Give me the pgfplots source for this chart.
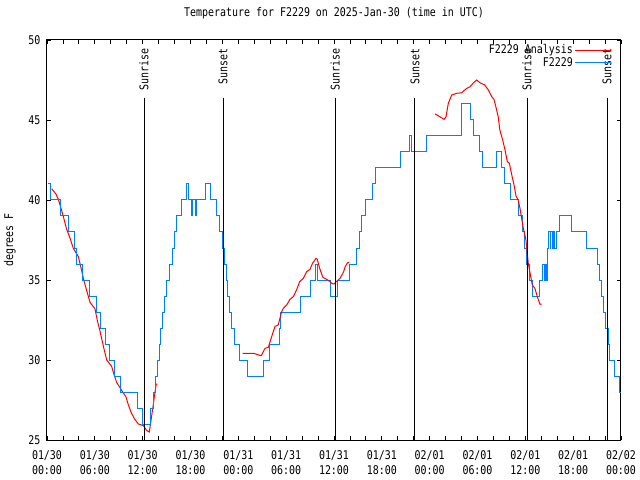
\documentclass[border=0pt]{standalone}
\usepackage{fontspec}
\usepackage{pgfplots}
\pgfplotsset{compat=1.18}
\newfontfamily\gfontfam[FakeStretch=0.83]{DejaVu Sans Mono}
\newcommand{\gfont}{\gfontfam\fontsize{12bp}{15.5bp}\selectfont}
\definecolor{gred}{RGB}{255,0,0}
\definecolor{gblue}{RGB}{0,128,255}
\begin{document}
\begin{tikzpicture}
\useasboundingbox (-47bp,-40bp) rectangle (593bp,440bp);
\begin{axis}[
  at={(0,0)}, anchor=south west,
  scale only axis, width=574bp, height=400bp,
  xmin=0, xmax=72, ymin=25, ymax=50,
  xtick={0,6,...,72}, minor x tick num=2,
  ytick={25,30,...,50},
  xticklabels={{01/30\\00:00},{01/30\\06:00},{01/30\\12:00},{01/30\\18:00},{01/31\\00:00},{01/31\\06:00},{01/31\\12:00},{01/31\\18:00},{02/01\\00:00},{02/01\\06:00},{02/01\\12:00},{02/01\\18:00},{02/02\\00:00}},
  /pgf/number format/assume math mode=true,
  xticklabel style={align=center, font=\gfont, yshift=-7bp},
  yticklabel style={font=\gfont, xshift=-3bp},
  tick align=inside, tick pos=both,
  major tick length=4bp, minor tick length=4bp,
  every tick/.style={black, line width=0.8bp},
  axis line style={line width=1bp},
  title={Temperature for F2229 on 2025-Jan-30 (time in UTC)},
  title style={font=\gfont, at={(axis description cs:0.5,1)}, anchor=center, yshift=21bp},
  ylabel={degrees F},
  ylabel style={font=\gfont, at={(axis description cs:-0.0645,0.5)}, anchor=center},
  legend plot pos=right, legend cell align=right,
  legend style={draw=none, fill=none, at={(1,1)}, anchor=north east, xshift=-9bp, yshift=-2.5bp, font=\gfont, inner sep=0pt, row sep=-2bp},
  legend image code/.code={\path (0bp,0bp) -- (36bp,0bp); \draw[#1] (9bp,0bp) -- (36bp,0bp);},
]
\addplot[gred, line width=1bp] coordinates {
(0.58,40.7) (1.09,40.4) (1.42,40.05) (1.75,39.5) (2.05,38.96) (2.47,38.17) (2.9,37.6) (3.3,36.98) (3.93,36.46) (4.25,35.8) (4.56,35.1) (5.0,34.3) (5.4,33.6) (6.02,33.2) (6.3,32.5) (6.65,31.8) (7.1,30.8) (7.49,30.0) (8.11,29.6) (8.4,29.1) (8.74,28.6) (9.37,28.1) (9.9,27.7) (10.2,27.2) (10.6,26.67) (11.0,26.3) (11.46,26.0) (12.08,25.9) (12.5,25.6) (12.83,25.5) (13.0,26.06) (13.3,27.1) (13.55,28.0) (13.7,28.5) (13.84,28.5)
};
\addlegendentry{F2229 Analysis}
\addplot[gblue, line width=1bp, const plot] coordinates {
(0.15,41) (0.5,40) (1.75,39) (2.7,38) (3.4,37) (3.65,36) (4.45,35) (5.3,34) (6.2,33) (6.65,32) (7.4,31) (7.8,30) (8.5,29) (9.25,28) (11.4,27) (12.0,26) (13.0,27) (13.4,28) (13.6,29) (13.84,30) (14.05,31) (14.26,32) (14.47,33) (14.72,34) (14.93,35) (15.35,36) (15.76,37) (15.97,38) (16.27,39) (16.9,40) (17.45,41) (17.7,40) (18.15,39) (18.3,40) (18.6,39) (18.8,40) (19.85,41) (20.45,40) (21.3,39) (21.7,38) (22.0,37) (22.3,36) (22.5,35) (22.66,34) (22.9,33) (23.17,32) (23.5,31) (24.15,30) (25.2,29) (27.2,30) (27.95,31) (29.2,32) (29.3,33) (31.8,34) (33.05,35) (33.65,36) (33.95,35) (35.55,34) (36.4,35) (38.0,36) (38.8,37) (39.2,38) (39.5,39) (39.9,40) (40.8,41) (41.15,42) (44.35,43) (45.45,44) (45.75,43) (47.6,44) (52.05,46) (53.1,45) (53.45,44) (54.25,43) (54.6,42) (56.35,43) (57.05,42) (57.35,41) (58.1,40) (59.2,39) (59.6,38) (59.9,37) (60.15,36) (60.5,35) (60.9,34) (61.8,35) (62.2,36) (62.38,35) (62.5,36) (62.63,35) (62.75,37) (62.93,38) (63.1,37) (63.2,38) (63.35,37) (63.5,38) (63.7,37) (63.85,38) (64.3,39) (65.85,38) (67.7,37) (69.0,36) (69.3,35) (69.55,34) (69.8,33) (70.1,32) (70.4,31) (70.6,30) (71.2,29) (71.75,28) (72,28)
};
\addlegendentry{F2229}
\addplot[gred, line width=1bp, forget plot] coordinates {
(24.55,30.42) (25.9,30.42) (26.7,30.29) (26.9,30.29) (27.35,30.73) (27.76,30.79) (28.18,31.46) (28.6,32.1) (29.0,32.19) (29.44,33.02) (29.65,33.23) (30.07,33.44) (30.48,33.79) (30.9,33.96) (31.3,34.38) (31.7,34.9) (32.15,35.1) (32.57,35.52) (33.0,35.67) (33.3,36.04) (33.74,36.35) (33.9,36.3) (34.2,35.73) (34.6,35.17) (35.08,35.04) (35.5,34.9) (35.7,34.79) (36.0,34.75) (36.3,34.9) (36.75,35.1) (37.2,35.5) (37.4,35.83) (37.7,36.08) (37.9,36.08)
};
\addplot[gred, line width=1bp, forget plot] coordinates {
(48.67,45.38) (49.3,45.2) (49.8,45.04) (50.05,45.2) (50.34,46.04) (50.76,46.56) (51.4,46.67) (52.0,46.7) (52.65,46.98) (53.06,47.08) (53.5,47.33) (53.9,47.5) (54.3,47.33) (54.9,47.19) (55.36,46.88) (55.78,46.46) (56.07,46.29) (56.3,45.83) (56.6,45.2) (56.8,44.38) (57.16,43.75) (57.45,43.13) (57.74,42.4) (58.0,42.29) (58.3,41.56) (58.58,40.94) (58.83,40.25) (59.1,40.0) (59.33,39.48) (59.5,38.96) (59.75,38.23) (60.08,37.5) (60.37,36.04) (60.6,35.42) (60.87,34.69) (61.2,34.48) (61.5,33.96) (61.84,33.48) (62.05,33.5)
};
\addplot[black, line width=1bp, forget plot] coordinates {(12.17,25) (12.17,46.4)};
\addplot[black, line width=1bp, forget plot] coordinates {(22.08,25) (22.08,46.4)};
\addplot[black, line width=1bp, forget plot] coordinates {(36.13,25) (36.13,46.4)};
\addplot[black, line width=1bp, forget plot] coordinates {(46.16,25) (46.16,46.4)};
\addplot[black, line width=1bp, forget plot] coordinates {(60.21,25) (60.21,46.4)};
\addplot[black, line width=1bp, forget plot] coordinates {(70.25,25) (70.25,46.4)};
\node[rotate=90, anchor=east, font=\gfont, inner sep=0pt] at (axis cs:12.17,49.5) {Sunrise};
\node[rotate=90, anchor=east, font=\gfont, inner sep=0pt] at (axis cs:22.08,49.5) {Sunset};
\node[rotate=90, anchor=east, font=\gfont, inner sep=0pt] at (axis cs:36.13,49.5) {Sunrise};
\node[rotate=90, anchor=east, font=\gfont, inner sep=0pt] at (axis cs:46.16,49.5) {Sunset};
\node[rotate=90, anchor=east, font=\gfont, inner sep=0pt] at (axis cs:60.21,49.5) {Sunrise};
\node[rotate=90, anchor=east, font=\gfont, inner sep=0pt] at (axis cs:70.25,49.5) {Sunset};
\end{axis}
\end{tikzpicture}
\end{document}
